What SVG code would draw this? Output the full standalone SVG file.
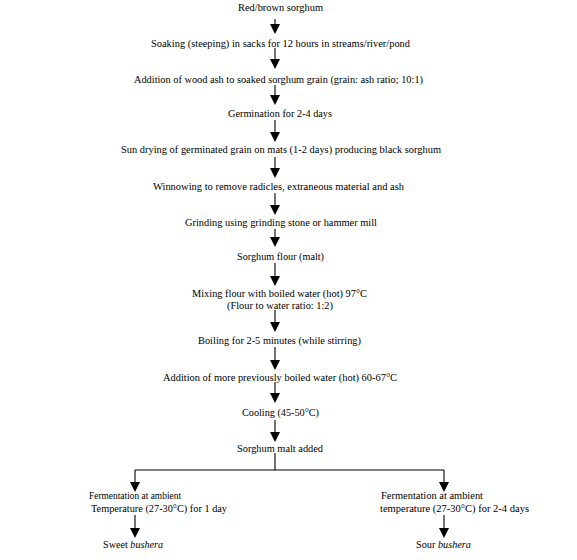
<svg xmlns="http://www.w3.org/2000/svg" width="577" height="560" viewBox="0 0 577 560">
<style>
text{font-family:"Liberation Serif","Times New Roman",serif;font-size:10px;fill:#000}
.c{text-anchor:middle}
.ln{stroke:#000;stroke-width:1.1;fill:none}
.i{font-style:italic}
</style>
<defs>
<polygon id="ah" points="-5,-10 5,-10 0,0" fill="#000"/>
</defs>
<rect width="577" height="560" fill="#fff"/>
<g id="connectors">
<path class="ln" d="M275,19V31 M275,48V66 M275,85V102 M275,120V139 M275,157V175 M275,193V212 M275,229V244 M275,263V283 M275,310V329 M275,347V367 M275,382V400 M275,420V439 M275,453V470 M135,470H444 M135,470V489 M444,470V489 M135,515V535 M444,515V535"/>
<use href="#ah" x="275" y="34"/>
<use href="#ah" x="275" y="69"/>
<use href="#ah" x="275" y="105"/>
<use href="#ah" x="275" y="142"/>
<use href="#ah" x="275" y="178"/>
<use href="#ah" x="275" y="215"/>
<use href="#ah" x="275" y="247"/>
<use href="#ah" x="275" y="286"/>
<use href="#ah" x="275" y="332"/>
<use href="#ah" x="275" y="370"/>
<use href="#ah" x="275" y="403"/>
<use href="#ah" x="275" y="442"/>
<use href="#ah" x="135" y="492"/>
<use href="#ah" x="444" y="492"/>
<use href="#ah" x="135" y="538"/>
<use href="#ah" x="444" y="538"/>
</g>
<g id="n1"><text class="c" x="280.5" y="11" textLength="85" lengthAdjust="spacingAndGlyphs">Red/brown sorghum</text></g>
<g id="n2"><text class="c" x="280.5" y="46.5" textLength="259" lengthAdjust="spacingAndGlyphs">Soaking (steeping) in sacks for 12 hours in streams/river/pond</text></g>
<g id="n3"><text class="c" x="278.5" y="83" textLength="289" lengthAdjust="spacingAndGlyphs">Addition of wood ash to soaked sorghum grain (grain: ash ratio; 10:1)</text></g>
<g id="n4"><text class="c" x="280" y="116.5" textLength="104" lengthAdjust="spacingAndGlyphs">Germination for 2-4 days</text></g>
<g id="n5"><text class="c" x="281" y="152.5" textLength="320" lengthAdjust="spacingAndGlyphs">Sun drying of germinated grain on mats (1-2 days) producing black sorghum</text></g>
<g id="n6"><text class="c" x="278.5" y="190" textLength="251" lengthAdjust="spacingAndGlyphs">Winnowing to remove radicles, extraneous material and ash</text></g>
<g id="n7"><text class="c" x="281" y="226" textLength="192" lengthAdjust="spacingAndGlyphs">Grinding using grinding stone or hammer mill</text></g>
<g id="n8"><text class="c" x="280.5" y="260" textLength="87" lengthAdjust="spacingAndGlyphs">Sorghum flour (malt)</text></g>
<g id="n9"><text class="c" x="279.5" y="296.5" textLength="175" lengthAdjust="spacingAndGlyphs">Mixing flour with boiled water (hot) 97°C</text>
<text class="c" x="280" y="308.5" textLength="106" lengthAdjust="spacingAndGlyphs">(Flour to water ratio: 1:2)</text></g>
<g id="n10"><text class="c" x="279.5" y="344" textLength="163" lengthAdjust="spacingAndGlyphs">Boiling for 2-5 minutes (while stirring)</text></g>
<g id="n11"><text class="c" x="280" y="380.5" textLength="234" lengthAdjust="spacingAndGlyphs">Addition of more previously boiled water (hot) 60-67°C</text></g>
<g id="n12"><text class="c" x="280.5" y="415.5" textLength="77" lengthAdjust="spacingAndGlyphs">Cooling (45-50°C)</text></g>
<g id="n13"><text class="c" x="280" y="451.5" textLength="86" lengthAdjust="spacingAndGlyphs">Sorghum malt added</text></g>
<g id="n14"><text x="89" y="498.5" textLength="92" lengthAdjust="spacingAndGlyphs">Fermentation at ambient</text>
<text x="91" y="512" textLength="136" lengthAdjust="spacingAndGlyphs">Temperature (27-30°C) for 1 day</text></g>
<g id="n15"><text x="381" y="498.5" textLength="102" lengthAdjust="spacingAndGlyphs">Fermentation at ambient</text>
<text x="380" y="512" textLength="149" lengthAdjust="spacingAndGlyphs">temperature (27-30°C) for 2-4 days</text></g>
<g id="n16"><text x="103" y="548" textLength="60" lengthAdjust="spacingAndGlyphs">Sweet <tspan class="i">bushera</tspan></text></g>
<g id="n17"><text x="416" y="548" textLength="55" lengthAdjust="spacingAndGlyphs">Sour <tspan class="i">bushera</tspan></text></g>
</svg>
